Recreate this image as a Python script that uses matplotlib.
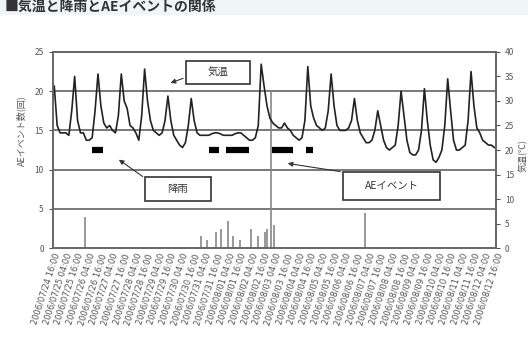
import numpy as np
import pandas as pd
import matplotlib
matplotlib.use("Agg")
import matplotlib.pyplot as plt
from matplotlib.patches import Rectangle

plt.rcParams['font.family'] = ['Noto Sans CJK JP', 'DejaVu Sans']

# temperature, 3-hourly samples, one row per day (°C)
temp_by_day = [
    [33, 25, 23.5, 23.5, 23.5, 23, 28, 35],
    [26, 23.5, 23.5, 22, 22, 22.5, 28, 35.5],
    [29, 25.5, 24.5, 25, 24, 23.5, 27, 35.5],
    [30, 28.5, 25, 24.5, 23.5, 22, 27, 36.5],
    [30, 26, 24, 23.5, 23, 23.5, 26, 31],
    [26, 23, 22, 21, 20.5, 21.5, 25, 30.5],
    [26, 23.5, 23, 23, 23, 23, 23.3, 23.5],
    [23.5, 23.3, 23, 23, 23, 23, 23.3, 23.5],
    [23.5, 23, 22.5, 22, 22, 22.5, 25, 37.5],
    [33, 29, 26.5, 25.5, 25, 24.5, 24.5, 25.5],
    [24.5, 24, 23, 22.5, 22, 22.5, 26, 37],
    [29, 26.5, 25, 24.5, 24, 24.5, 28, 35.5],
    [29, 25, 24, 24, 24, 24.5, 26, 30.5],
    [26, 23.5, 22.5, 21.5, 21.5, 22, 24, 28],
    [25, 22, 20.5, 20, 20.5, 21, 25, 32],
    [27, 22, 19.5, 19, 19, 20, 24, 32.5],
    [26, 21, 18, 17.5, 18.5, 20, 25, 34.5],
    [28, 22, 20, 20, 20.5, 21, 26, 36],
    [29, 24.5, 23.5, 22, 21.5, 21, 21, 20.5],
]
temp = np.concatenate(temp_by_day)
temp_hours = np.arange(1.5, 456, 3)

# AE event counts (hour from start, count)
ae_hours = [33, 153, 159, 168, 173, 180, 186, 193, 204, 211, 218, 221, 225, 228, 321]
ae_counts = [4, 1.5, 1, 2, 2.5, 3.5, 1.5, 1, 2.5, 1.5, 2, 2.5, 20, 3, 4.5]

# rainfall periods (start hour, end hour)
rain_start = [40, 161, 178, 226, 261]
rain_end = [52, 171, 202, 247, 268]
rain_level = 20

start = pd.Timestamp("2006-07-24 16:00")
tick_hours = np.arange(0, 457, 12)
tick_labels = [(start + pd.Timedelta(hours=int(h))).strftime("%Y/%m/%d %H:%M")
               for h in tick_hours]

fig = plt.figure(figsize=(5.28, 3.53), dpi=100)
fig.patches.append(Rectangle((0, 0.96), 1, 0.04, transform=fig.transFigure,
                             color="#eef6f8", zorder=0))
fig.text(0.008, 0.997, "■気温と降雨とAEイベントの関係", fontsize=10,
         fontweight="bold", color="#333", va="top")

ax = fig.add_axes([0.100, 0.297, 0.839, 0.556])
ax2 = ax.twinx()

frame = "#666666"
ax.vlines(ae_hours, 0, ae_counts, color="#888888", lw=1.2)
ax.set_ylim(0, 25)
ax.set_yticks([0, 5, 10, 15, 20, 25])
ax.set_xlim(0, 456)
for v in [5, 10, 15, 20]:
    ax.axhline(v, color="#555555", lw=1.1, zorder=1)

ax2.plot(temp_hours, temp, color="#222222", lw=1.2)
ax2.hlines([rain_level] * len(rain_start), rain_start, rain_end,
           color="black", lw=4.5)
ax2.set_ylim(0, 40)
ax2.set_yticks(range(0, 41, 5))

ax.set_xticks(tick_hours)
ax.set_xticklabels(tick_labels, rotation=72, ha="right", rotation_mode="anchor",
                   fontsize=6, color="#555555", family="DejaVu Sans")

for a in (ax, ax2):
    for s in a.spines.values():
        s.set_color(frame)
        s.set_linewidth(1.2)
    a.tick_params(axis="y", labelsize=6, colors="#555555", length=3)
ax.tick_params(axis="x", length=0, pad=3)

ax.set_ylabel("AEイベント数(回)", fontsize=6.5, color="#555555", labelpad=8)
ax.yaxis.set_label_coords(-0.06, 0.6)
ax2.set_ylabel("気温(℃)", fontsize=6.5, color="#555555", labelpad=6)
ax2.yaxis.set_label_coords(1.05, 0.47)

# callout boxes with arrows, placed in axes fraction
def callout(text, box, tip, tail):
    x0, y0, w, h = box
    ax.add_patch(Rectangle((x0, y0), w, h, transform=ax.transAxes, fill=True,
                           facecolor="white", edgecolor="#333333", lw=1.2, zorder=5))
    ax.text(x0 + w / 2, y0 + h / 2, text, transform=ax.transAxes, ha="center",
            va="center", fontsize=7.5, color="#333333", zorder=6)
    ax.annotate("", xy=tip, xycoords="axes fraction", xytext=tail,
                textcoords="axes fraction",
                arrowprops=dict(arrowstyle="-|>", color="#333333", lw=0.8,
                                mutation_scale=7), zorder=6)

callout("気温", (0.300, 0.837, 0.145, 0.117), (0.260, 0.837), (0.300, 0.870))
callout("降雨", (0.208, 0.240, 0.149, 0.122), (0.144, 0.459), (0.208, 0.357))
callout("AEイベント", (0.655, 0.245, 0.219, 0.143), (0.524, 0.434), (0.655, 0.388))

fig.savefig("out.png", dpi=100)
